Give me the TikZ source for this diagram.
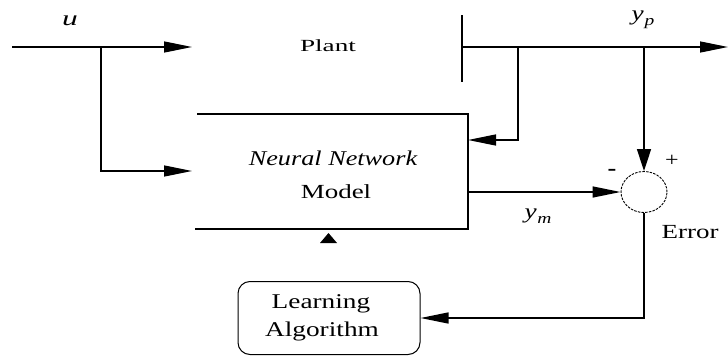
\documentclass[tikz,border=0pt]{standalone}
\usepackage{fontspec}
\setmainfont{Liberation Serif}
\usetikzlibrary{arrows.meta,shapes.geometric}
\newcommand{\wtxt}[3]{\scalebox{#1}[1]{\fontsize{#2}{#2}\selectfont #3}}
\begin{document}
\begin{tikzpicture}[x=1pt,y=-1pt,line width=1.4pt,
  sig/.style={-{Triangle[length=28pt,width=11pt]}},
  sigdown/.style={-{Triangle[length=22pt,width=14pt]}},
  lbl/.style={inner sep=0pt,anchor=center}]
\useasboundingbox (0,0) rectangle (728,356);
% coordinates
\coordinate (uin) at (12,47);
\coordinate (plantin) at (192,47);
\coordinate (ubr) at (101,47);
\coordinate (nnin) at (192,171);
\coordinate (plantR1) at (462,15);
\coordinate (plantR2) at (462,82);
\coordinate (plantout) at (462,47);
\coordinate (yout) at (728,47);
\coordinate (br1) at (518,47);
\coordinate (nnfb) at (468,140);
\coordinate (br2) at (644,47);
\coordinate (nnTL) at (197,114);
\coordinate (nnTR) at (468,114);
\coordinate (nnBR) at (468,229);
\coordinate (nnBL) at (195,229);
\coordinate (nnout) at (468,192);
\coordinate (nnlearn) at (328.5,233);
% plant
\node[lbl] (plantlbl) at (328,46) {\wtxt{1.6}{17}{Plant}};
\draw (plantR1) -- (plantR2);
% neural network model
\draw (nnTL) -- (nnTR) -- (nnBR) -- (nnBL);
\node[lbl] (nnt1) at (333,158) {\wtxt{1.25}{21}{\itshape Neural Network}};
\node[lbl] (nnt2) at (336,192) {\wtxt{1.35}{20}{Model}};
% summing junction
\node[draw,ellipse,minimum width=46pt,minimum height=41pt,inner sep=0pt,
      line width=0.9pt,dash pattern=on 2.5pt off 1.2pt] (sum) at (644,192) {};
% learning algorithm
\node[draw,rounded corners=12pt,minimum width=182pt,minimum height=73pt,
      line width=1pt,inner sep=0pt] (learn) at (329,318) {};
\node[lbl] (learnt1) at (321,304) {\wtxt{1.3}{21}{Learning}};
\node[lbl] (learnt2) at (322,331) {\wtxt{1.3}{21}{Algorithm}};
% connectors
\draw[sig] (uin) -- (plantin);
\draw[sig] (ubr) |- (nnin);
\draw[sig] (plantout) -- (yout);
\draw[sig] (br1) |- (nnfb);
\draw[sigdown] (br2) -- (sum.north);
\draw[sig] (nnout) -- (sum.west);
\draw[sig] (sum.south) |- (learn.east);
\fill (nnlearn) ++(-8.5,10) -- ++(17,0) -- (nnlearn) -- cycle;
% labels
\node[lbl] (ulbl) at (70,21) {\wtxt{1.5}{21}{\itshape u}};
\node[lbl] (yplbl) at (643,20) {\wtxt{1.3}{21}{\itshape y\kern0.5pt\raisebox{-5pt}{\fontsize{15}{15}\selectfont p}}};
\node[lbl] (ymlbl) at (538,216) {\wtxt{1.3}{21}{\itshape y\kern0.5pt\raisebox{-5pt}{\fontsize{15}{15}\selectfont m}}};
\node[lbl] (errlbl) at (690,232) {\wtxt{1.35}{20}{Error}};
\node[lbl] (minus) at (612,172) {\wtxt{1.2}{22}{\bfseries -}};
\node[lbl] (plus) at (672,161) {\wtxt{1.2}{20}{+}};
\end{tikzpicture}
\end{document}
